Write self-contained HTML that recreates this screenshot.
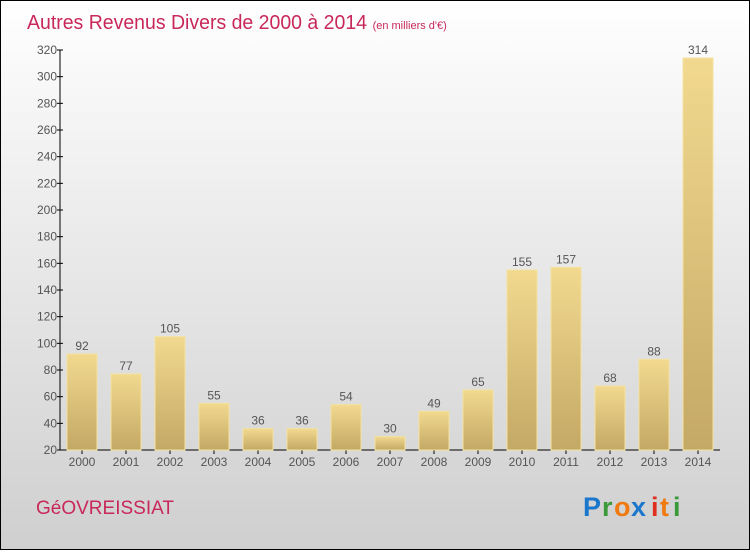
<!DOCTYPE html>
<html><head><meta charset="utf-8"><style>
html,body{margin:0;padding:0}
body{width:750px;height:550px;overflow:hidden}
svg text{font-family:"Liberation Sans",sans-serif}
</style></head><body>
<svg id="chart" width="750" height="550" xmlns="http://www.w3.org/2000/svg">
<defs>
<linearGradient id="bg" x1="0" y1="0" x2="0" y2="1"><stop offset="0" stop-color="#ffffff"/><stop offset="1" stop-color="#cfcfcf"/></linearGradient>
<linearGradient id="bar" x1="0" y1="0" x2="0" y2="1"><stop offset="0" stop-color="#f2d98f"/><stop offset="1" stop-color="#c4a865"/></linearGradient>
</defs>
<rect x="0.5" y="0.5" width="749" height="549" fill="url(#bg)" stroke="#000" stroke-width="1"/>
<text x="27" y="29" font-size="20" fill="#c8285a"><tspan textLength="340" lengthAdjust="spacingAndGlyphs">Autres Revenus Divers de 2000 à 2014</tspan> <tspan font-size="11">(en milliers d'€)</tspan></text>
<g id="axes"></g>
<g id="bars"></g>
<text x="36" y="514" font-size="19" fill="#c8285a">GéOVREISSIAT</text>
<g font-size="27" font-weight="bold">
<text x="583" y="516" fill="#1a77cc">P</text><text x="602" y="516" fill="#3a9a3a">r</text><text x="614" y="516" fill="#f07a10">o</text><text x="631" y="516" fill="#1a77cc">x</text><text x="651" y="516" fill="#e03020">i</text><text x="660" y="516" fill="#f07a10">t</text><text x="673" y="516" fill="#3a9a3a">i</text>
</g>
</svg>
<script>
const years=["2000","2001","2002","2003","2004","2005","2006","2007","2008","2009","2010","2011","2012","2013","2014"];
const values=[92,77,105,55,36,36,54,30,49,65,155,157,68,88,314];
const yTicks=[20,40,60,80,100,120,140,160,180,200,220,240,260,280,300,320];
const NS="http://www.w3.org/2000/svg";
const x0=60,x1=720,yTop=50,yBot=450,vMin=20,vMax=320;
const y=v=>yBot-(v-vMin)/(vMax-vMin)*(yBot-yTop);
const step=44;
const xc=i=>82+step*i;
function mk(t,a,p){const e=document.createElementNS(NS,t);for(const k in a)e.setAttribute(k,a[k]);p.appendChild(e);return e;}
const ax=document.getElementById('axes'),bg=document.getElementById('bars');
const yl=mk('line',{x1:x0,y1:yTop,x2:x0,y2:yBot,stroke:'#000'},ax);


const xl=mk('line',{x1:x0,y1:yBot,x2:x1,y2:yBot,stroke:'#000'},ax);


yTicks.forEach(t=>{
 mk('line',{x1:x0-3,y1:y(t),x2:x0+3,y2:y(t),stroke:'#000'},ax);
 const tx=mk('text',{x:x0-3,y:y(t)+4,'font-size':12,'text-anchor':'end',fill:'#555'},ax);
 
 
 tx.textContent=t;
});
years.forEach((yr,i)=>{
 const c=xc(i);
 mk('line',{x1:c,y1:yBot,x2:c,y2:yBot+4,stroke:'#000'},ax);
 const tl=mk('text',{x:c,y:yBot+16,'font-size':12,'text-anchor':'middle',fill:'#555'},ax);
 
 
 tl.textContent=yr;
 const r=mk('rect',{x:c-15,y:y(values[i]),width:30,height:yBot-y(values[i]),fill:'url(#bar)',stroke:'#f3e29e','stroke-width':1},bg);
 
 
 const vl=mk('text',{x:c,y:y(values[i])-4,'font-size':12,'text-anchor':'middle',fill:'#555'},bg);
 
 
 vl.textContent=values[i];
});
</script>
</body></html>
